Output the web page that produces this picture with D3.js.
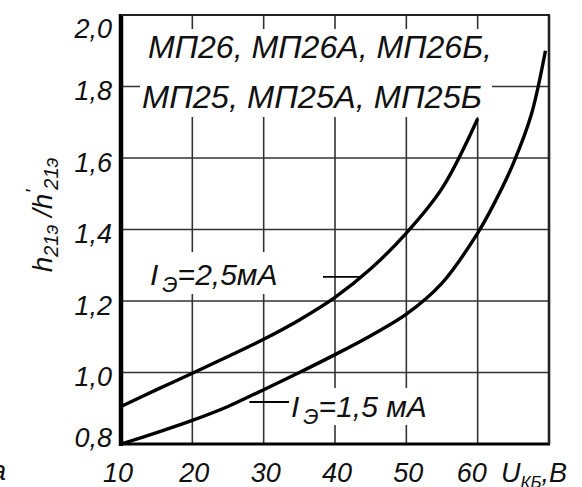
<!DOCTYPE html>
<html>
<head>
<meta charset="utf-8">
<script src="https://cdn.jsdelivr.net/npm/d3@7"></script>
<style>
  body { margin: 0; background: #fff; }
  text { font-family: "Liberation Sans", Arial, sans-serif; font-style: italic; fill: #111; }
</style>
</head>
<body>
<div id="vis"></div>
<script>
// values
var uTicks = [10, 20, 30, 40, 50, 60];
var hTicks = [0.8, 1.0, 1.2, 1.4, 1.6, 1.8, 2.0];

// I_Э = 2,5 мА
var u25 = [10, 15, 20, 25, 30, 35, 40, 45, 50, 55, 60];
var h25 = [0.905, 0.952, 0.998, 1.045, 1.093, 1.147, 1.21, 1.29, 1.39, 1.515, 1.71];

// I_Э = 1,5 мА
var u15 = [10, 15, 20, 25, 30, 35, 40, 45, 50, 55, 60, 62.5, 65, 67.5, 69.5];
var h15 = [0.80, 0.832, 0.866, 0.905, 0.952, 1.0, 1.05, 1.103, 1.163, 1.25, 1.39, 1.48, 1.585, 1.72, 1.90];

var titleLines = ["МП26, МП26А, МП26Б,", "МП25, МП25А, МП25Б"];

var width = 582,
    height = 487;

var svg = d3.select("#vis").append("svg")
    .attr("width", width)
    .attr("height", height);

var x = d3.scaleLinear().domain([10, 70]).range([121, 549]);
var y = d3.scaleLinear().domain([0.8, 2.0]).range([444, 15]);

// grid
svg.append("g").selectAll("line")
    .data(uTicks.slice(1))
    .enter().append("line")
    .attr("x1", function(d) { return x(d); })
    .attr("x2", function(d) { return x(d); })
    .attr("y1", y(2.0))
    .attr("y2", y(0.8))
    .attr("stroke", "#333")
    .attr("stroke-width", 1.6);

svg.append("g").selectAll("line")
    .data(hTicks.slice(1, -1))
    .enter().append("line")
    .attr("x1", x(10))
    .attr("x2", x(70))
    .attr("y1", function(d) { return y(d); })
    .attr("y2", function(d) { return y(d); })
    .attr("stroke", "#333")
    .attr("stroke-width", 1.6);

// white masks under the texts
svg.append("rect")
    .attr("x", 140).attr("y", 29)
    .attr("width", 352).attr("height", 88)
    .attr("fill", "#fff");
svg.append("rect")
    .attr("x", 148).attr("y", 252)
    .attr("width", 172).attr("height", 42)
    .attr("fill", "#fff");
svg.append("rect")
    .attr("x", 289).attr("y", 388)
    .attr("width", 172).attr("height", 37)
    .attr("fill", "#fff");

// frame
svg.append("line").attr("x1", x(10)).attr("x2", x(10)).attr("y1", y(2.0) - 1).attr("y2", y(0.8) + 2)
    .attr("stroke", "#000").attr("stroke-width", 4.5);
svg.append("line").attr("x1", x(10)).attr("x2", x(70) + 1).attr("y1", y(0.8)).attr("y2", y(0.8))
    .attr("stroke", "#000").attr("stroke-width", 3);
svg.append("line").attr("x1", x(10)).attr("x2", x(70) + 1).attr("y1", y(2.0)).attr("y2", y(2.0))
    .attr("stroke", "#222").attr("stroke-width", 2.2);
svg.append("line").attr("x1", x(70)).attr("x2", x(70)).attr("y1", y(2.0)).attr("y2", y(0.8))
    .attr("stroke", "#222").attr("stroke-width", 2.6);

// curves
var line = d3.line()
    .x(function(d) { return x(d[0]); })
    .y(function(d) { return y(d[1]); })
    .curve(d3.curveCatmullRom.alpha(0.5));

var pts25 = d3.zip(u25, h25),
    pts15 = d3.zip(u15, h15);

svg.append("path")
    .attr("d", line(pts25))
    .attr("fill", "none").attr("stroke", "#000").attr("stroke-width", 3.4);
svg.append("path")
    .attr("d", line(pts15))
    .attr("fill", "none").attr("stroke", "#000").attr("stroke-width", 3.4);

// leaders
function at(us, hs, u) { return d3.scaleLinear().domain(us).range(hs)(u); }
svg.append("line")
    .attr("x1", 323).attr("y1", y(at(u25, h25, 43.6)))
    .attr("x2", x(43.6)).attr("y2", y(at(u25, h25, 43.6)))
    .attr("stroke", "#000").attr("stroke-width", 1.8);
svg.append("line")
    .attr("x1", x(28)).attr("y1", 402)
    .attr("x2", 289).attr("y2", 402)
    .attr("stroke", "#000").attr("stroke-width", 1.8);

// tick labels
svg.append("g").selectAll("text")
    .data(hTicks)
    .enter().append("text")
    .attr("x", 112)
    .attr("y", function(d) { return Math.min(Math.max(y(d) + 4, 28), 437); })
    .attr("dy", "0.36em")
    .attr("text-anchor", "end")
    .style("font-size", "27px")
    .text(function(d) { return d3.format(".1f")(d).replace(".", ","); });

svg.append("g").selectAll("text")
    .data(uTicks)
    .enter().append("text")
    .attr("x", function(d) { return x(d) + (d === 10 ? -3 : d === 60 ? -6 : 2); })
    .attr("y", 482)
    .attr("text-anchor", "middle")
    .style("font-size", "27px")
    .text(function(d) { return d; });

// x axis name
var xl = svg.append("text").attr("x", 501).attr("y", 482).style("font-size", "27px");
xl.append("tspan").text("U");
xl.append("tspan").attr("dy", 6).style("font-size", "17px").text("КБ");
xl.append("tspan").attr("dy", -6).text(",В");

// y axis name
var yl = svg.append("text")
    .attr("transform", "translate(52,215) rotate(-90)")
    .attr("text-anchor", "middle")
    .style("font-size", "28px");
yl.append("tspan").text("h");
yl.append("tspan").attr("dy", 6).style("font-size", "20px").text("21э");
yl.append("tspan").attr("dy", -6).text(" /");
yl.append("tspan").text("h");
yl.append("tspan").attr("dy", -12).style("font-size", "20px").text("'");
yl.append("tspan").attr("dy", 18).style("font-size", "20px").text("21э");

// title
svg.append("g").selectAll("text")
    .data(titleLines)
    .enter().append("text")
    .attr("x", function(d, i) { return i ? 142 : 148; })
    .attr("y", function(d, i) { return i ? 108 : 58; })
    .attr("textLength", function(d, i) { return i ? 340 : 344; })
    .attr("lengthAdjust", "spacingAndGlyphs")
    .style("font-size", "31px")
    .text(function(d) { return d; });

// current labels
function currentLabel(tx, ty, val) {
  var t = svg.append("text").attr("x", tx).attr("y", ty).style("font-size", "30px");
  t.append("tspan").text("I");
  t.append("tspan").attr("dx", 4).attr("dy", 7).style("font-size", "22px").text("Э");
  t.append("tspan").attr("dy", -7).text("=" + val + "мА");
}
currentLabel(150, 285, "2,5");
currentLabel(291, 417, "1,5 ");

// clipped letter at the left edge
svg.append("text").attr("x", -9).attr("y", 480).style("font-size", "27px").text("а");
</script>
</body>
</html>
